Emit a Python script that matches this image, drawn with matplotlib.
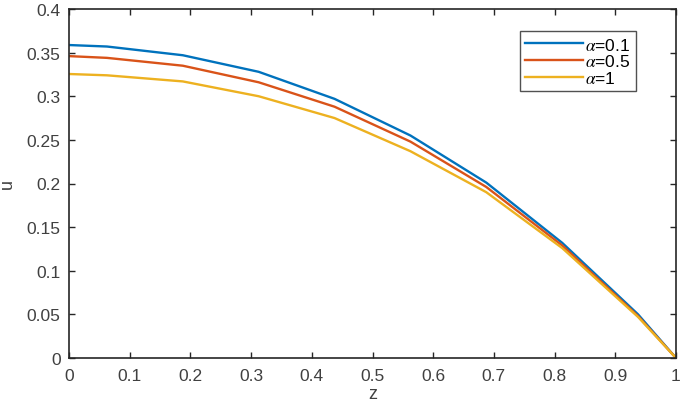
import numpy as np
import matplotlib.pyplot as plt

plt.rcParams['font.family'] = ['Liberation Sans', 'DejaVu Sans']
plt.rcParams['mathtext.fontset'] = 'stix'

# grid points in z
z = [0, 0.0625, 0.1875, 0.3125, 0.4375, 0.5625, 0.6875, 0.8125, 0.9375, 1.0]

u_a01 = [0.3587, 0.357, 0.347, 0.328, 0.297, 0.255, 0.201, 0.132, 0.050, 0.0]
u_a05 = [0.346, 0.344, 0.335, 0.316, 0.288, 0.248, 0.196, 0.129, 0.048, 0.0]
u_a1 = [0.3255, 0.324, 0.317, 0.300, 0.275, 0.237, 0.190, 0.126, 0.047, 0.0]

labels = [r'$\alpha$=0.1', r'$\alpha$=0.5', r'$\alpha$=1']
colors = ['#0072BD', '#D95319', '#EDB120']

fig = plt.figure(figsize=(6.85, 4.02), dpi=100)
ax = fig.add_axes([69/685, 1 - 359/402, 607/685, 349/402])

for u, lab, col in zip([u_a01, u_a05, u_a1], labels, colors):
    ax.plot(z, u, color=col, lw=1.7, label=lab)

ax.set_xlim(0, 1)
ax.set_ylim(0, 0.4)
ax.set_xticks(np.arange(0, 1.01, 0.1))
ax.set_xticklabels(['0', '0.1', '0.2', '0.3', '0.4', '0.5', '0.6', '0.7', '0.8', '0.9', '1'])
ax.set_yticks(np.arange(0, 0.401, 0.05))
ax.set_yticklabels(['0', '0.05', '0.1', '0.15', '0.2', '0.25', '0.3', '0.35', '0.4'])

ax.tick_params(direction='in', top=True, right=True, length=4, width=1,
               colors='#262626', labelsize=12.5, labelcolor='#404040')
ax.tick_params(axis='x', pad=7)
ax.tick_params(axis='y', pad=6)
for s in ax.spines.values():
    s.set_color('#262626')
    s.set_linewidth(1.2)

ax.set_xlabel('z', fontsize=13, color='#404040', labelpad=2)
ax.set_ylabel('u', fontsize=13, color='#404040')
ax.yaxis.set_label_coords(-0.088, 0.5)

leg = ax.legend(loc='upper left', bbox_to_anchor=(0.743, 0.936), fontsize=12.5,
                frameon=True, fancybox=False, edgecolor='#262626',
                handlelength=3.3, handletextpad=0.15, borderpad=0.3,
                labelspacing=0.05, borderaxespad=0)
leg.get_frame().set_linewidth(1.0)

fig.savefig('out.png', dpi=100)
